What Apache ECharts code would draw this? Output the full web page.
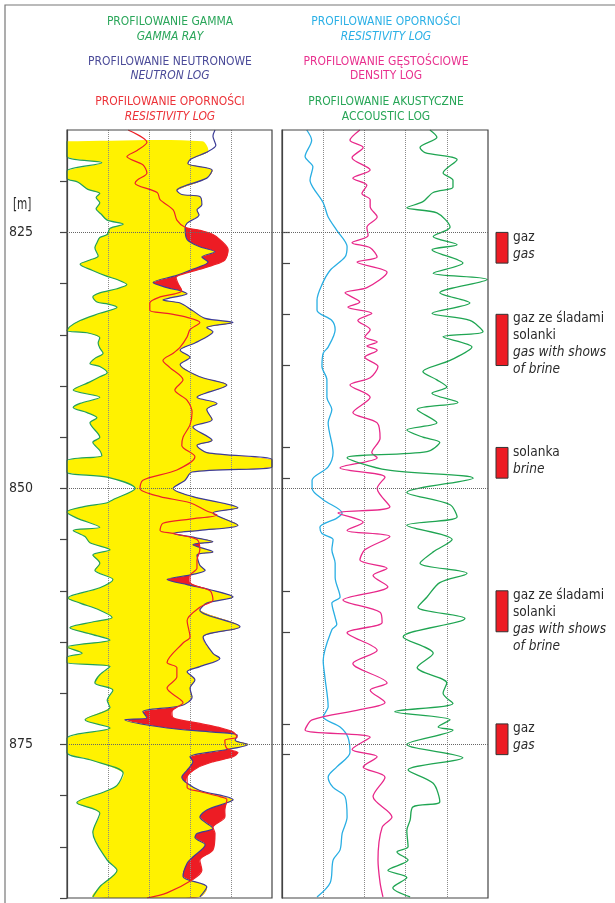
<!DOCTYPE html>
<html>
<head>
<meta charset="utf-8">
<script src="https://cdn.jsdelivr.net/npm/echarts@6/dist/echarts.min.js"></script>
<style>
html, body { margin: 0; padding: 0; background: #fff; }
#chart { width: 615px; height: 903px; }
</style>
</head>
<body>
<div id="chart"></div>
<script>
var FONT = '"DejaVu Sans Condensed", "Liberation Sans", sans-serif';

var depthMin = 815, depthMax = 890;
var depthTicks = [820, 825, 830, 835, 840, 845, 850, 855, 860, 865, 870, 875, 880, 885, 890];
var depthLabels = [825, 850, 875];

// left track: [value, depth]
var gammaRay = [
	[0,816.1],[0,817.6],[0.85,818.2],[0,819.0],[0,819.7],[0.27,820.1],[0.51,820.8],[0.80,821.2],[0.71,821.6],[0.80,822.1],
	[0.71,822.7],[0.83,823.2],[0.98,823.8],[1.37,824.2],[1.05,824.6],[0.98,825.2],[0.80,825.5],[0.73,826.0],[0.68,826.5],[0.76,827.3],
	[0.56,827.7],[0.32,828.1],[0.61,828.7],[0.98,829.3],[1.22,829.6],[1.46,830.1],[1.22,830.5],[0.80,830.9],[0.63,831.3],[0.73,831.8],
	[1.00,832.0],[1.22,832.3],[0.80,832.9],[0.32,833.6],[0.07,834.2],[0,834.6],[0.49,834.8],[0.80,835.3],[0.76,835.8],[0.80,836.3],
	[0.88,836.8],[0.68,837.3],[0.56,837.8],[0.80,838.1],[0.98,838.7],[0.80,839.1],[0.56,839.6],[0.15,840.4],[0.80,841.1],[0.32,841.7],
	[0.15,842.1],[0.49,842.6],[0.73,843.1],[0.56,843.6],[0.80,845.0],[0.63,845.5],[0.80,846.3],[0.85,846.8],[0,847.3],[0,848.4],
	[0.98,848.9],[1.66,850.0],[1.12,851.1],[0.98,851.4],[0.39,851.8],[0,852.3],[0.24,852.9],[0.80,853.8],[0.15,854.1],[0.44,854.7],
	[0.56,855.3],[1.05,856.0],[0.63,856.5],[0.80,857.3],[0.68,858.0],[1.12,858.9],[0.80,859.7],[0.02,860.7],[0.32,861.2],[0.80,861.9],
	[1.10,862.6],[0.68,863.0],[0.07,863.6],[0.56,864.2],[1.05,864.8],[0,865.5],[0.37,866.1],[0,866.5],[0,867.0],[1.05,867.4],
	[0.80,868.2],[0.68,869.0],[1.12,869.7],[0.98,870.7],[1.05,871.4],[0.44,872.6],[1.05,873.4],[0,874.4],[0,875.8],[0.56,876.5],
	[1.37,877.8],[1.22,879.0],[0.93,879.6],[0.24,880.7],[0.80,881.7],[0.63,883.6],[0.98,886.3],[1.22,887.3],[0.80,888.9],[0.63,889.9]
];
var neutronLog = [
	[3.61,815.0],[3.56,815.6],[3.63,816.5],[3.44,817.1],[3.00,817.9],[2.95,818.3],[3.54,818.9],[3.41,819.7],[2.68,820.9],[2.80,821.3],
	[3.24,821.5],[3.29,822.3],[3.17,822.8],[3.22,823.3],[2.93,824.1],[2.88,824.6],[2.93,825.7],[3.24,826.4],[3.61,826.9],[3.29,827.4],
	[3.44,827.9],[3.00,828.7],[2.68,829.2],[2.10,829.9],[2.44,830.4],[2.76,830.7],[2.93,831.0],[2.51,831.4],[2.34,831.6],[2.76,831.9],
	[3.05,832.6],[3.37,833.4],[4.05,833.8],[3.41,834.3],[3.56,834.7],[3.41,835.2],[3.12,835.8],[2.76,836.5],[3.00,837.2],[2.76,837.9],
	[3.24,839.1],[3.90,839.9],[3.17,841.1],[3.66,841.7],[3.41,842.3],[3.54,843.3],[3.07,844.0],[3.54,845.3],[3.17,845.8],[3.41,846.5],
	[5.0,847.2],[5.0,847.9],[3.05,848.4],[2.88,849.2],[2.59,850.0],[3.07,850.8],[4.17,851.9],[3.56,852.4],[4.17,853.6],[3.24,854.1],
	[2.59,854.4],[3.12,854.8],[3.56,855.2],[3.07,855.5],[3.56,856.2],[3.17,856.5],[3.24,857.5],[3.37,858.0],[3.07,858.4],[2.44,858.9],
	[2.93,859.4],[3.49,859.9],[4.05,860.6],[3.41,861.2],[3.24,861.9],[4.22,863.5],[3.32,864.5],[3.56,866.1],[3.73,866.6],[3.24,867.4],
	[2.93,867.9],[3.12,868.7],[3.00,869.5],[3.05,870.4],[2.80,871.2],[1.85,871.8],[1.95,872.4],[1.41,872.6],[2.44,873.4],[3.56,873.8],
	[4.15,874.1],[4.10,874.6],[4.41,875.0],[3.90,875.5],[3.00,876.2],[3.07,876.7],[2.93,877.5],[2.80,878.2],[2.93,878.8],[3.24,879.5],
	[4.05,880.4],[3.90,880.7],[3.41,881.4],[3.24,882.1],[3.56,883.2],[3.17,883.7],[3.12,884.1],[3.37,884.8],[3.07,886.0],[2.93,886.6],
	[2.83,887.9],[3.41,888.9],[3.24,889.9]
];
var resistivityLeft = [
	[1.49,815.0],[1.95,816.2],[1.71,817.0],[1.46,817.6],[1.85,818.4],[1.95,819.2],[1.71,819.9],[1.66,820.2],[2.20,821.1],[2.27,821.8],
	[2.59,822.8],[2.68,823.8],[2.88,824.5],[3.24,824.8],[3.56,825.2],[3.73,825.7],[3.93,826.7],[3.85,827.7],[3.56,828.2],[3.24,828.6],
	[2.88,829.0],[2.66,829.4],[2.71,830.0],[2.80,830.7],[2.63,831.0],[2.27,831.3],[2.02,831.9],[2.02,832.6],[2.44,832.9],[2.93,833.3],
	[3.24,833.8],[3.00,834.5],[2.93,835.2],[2.76,836.2],[2.59,836.8],[2.34,837.5],[2.51,838.2],[2.83,839.4],[2.63,840.4],[2.93,841.4],
	[3.05,842.6],[3.00,843.8],[2.83,845.0],[2.80,845.8],[3.12,846.9],[2.68,848.2],[1.85,849.2],[1.78,850.0],[2.27,850.8],[3.00,851.4],
	[3.41,852.2],[3.66,852.6],[3.00,853.0],[2.34,853.4],[2.27,854.1],[2.59,854.4],[3.17,855.0],[3.24,856.0],[3.17,857.0],[3.17,857.8],
	[3.00,858.5],[3.00,859.2],[3.49,860.0],[3.56,860.9],[3.24,861.6],[2.93,862.9],[3.00,864.5],[2.83,865.1],[2.44,867.0],[2.68,867.5],
	[2.68,868.4],[2.44,869.5],[2.76,870.6],[2.83,870.9],[2.56,871.8],[2.59,872.4],[3.17,872.9],[3.66,873.3],[4.05,873.8],[4.15,874.3],
	[3.85,874.6],[3.90,875.4],[4.17,875.8],[4.05,876.2],[3.56,876.7],[3.17,877.3],[2.93,878.2],[2.93,879.2],[3.24,879.6],[3.73,880.1],
	[3.90,880.4],[3.85,881.4],[3.85,882.1],[3.56,883.1],[3.61,883.7],[3.56,885.3],[3.24,886.3],[3.29,887.3],[3.07,888.2],[2.44,889.5],
	[1.95,890.0]
];
var yellowTop = [[0,816.1],[3.3,816.1]];
var fillFrom = 817;

// right track
var resistivityRight = [
	[0.60,815.0],[0.72,816.0],[0.56,817.6],[0.75,818.6],[0.68,819.9],[0.75,820.6],[1.00,822.1],[1.12,823.5],[1.33,824.8],[1.58,826.4],
	[1.53,827.4],[1.17,828.7],[0.97,830.1],[0.85,831.6],[0.85,832.6],[1.21,833.6],[1.29,834.5],[1.12,836.2],[1.00,836.8],[0.97,838.1],
	[1.09,839.4],[1.09,841.1],[1.21,842.3],[1.12,843.6],[1.24,846.5],[1.12,847.9],[0.73,849.2],[0.73,850.0],[1.00,851.1],[1.46,852.4],
	[1.33,852.9],[0.92,853.8],[0.97,854.4],[1.24,855.0],[1.21,856.0],[1.29,857.3],[1.29,858.7],[1.41,860.6],[1.21,861.2],[1.29,862.6],
	[1.33,863.3],[1.21,863.8],[1.00,866.8],[1.04,868.4],[1.12,871.3],[1.00,872.3],[1.41,873.3],[1.60,874.3],[1.65,875.8],[1.33,877.2],
	[1.12,878.2],[1.24,879.2],[1.53,880.1],[1.58,882.1],[1.46,883.7],[1.41,885.3],[1.24,886.3],[1.17,888.5],[0.85,889.9]
];
var densityLog = [
	[1.89,815.0],[1.65,816.0],[1.97,816.7],[1.70,817.7],[2.14,818.9],[1.72,819.7],[2.06,820.4],[1.94,821.2],[2.14,821.8],[2.14,822.5],
	[2.31,823.5],[2.06,824.5],[2.09,825.3],[1.70,826.0],[2.14,826.5],[2.31,827.4],[1.82,827.9],[2.55,828.9],[2.06,830.4],[1.53,830.9],
	[1.89,831.8],[1.60,832.3],[2.18,832.9],[1.84,833.6],[2.14,834.5],[2.01,835.2],[2.31,835.7],[2.06,836.1],[2.31,836.5],[2.01,837.2],
	[2.33,838.1],[2.14,839.2],[1.65,839.9],[2.14,841.1],[1.72,842.6],[2.31,843.6],[2.38,845.1],[2.18,846.5],[2.31,847.0],[1.41,848.0],
	[2.50,848.9],[2.31,850.0],[2.62,851.8],[1.36,852.4],[1.97,853.3],[1.58,854.1],[2.62,854.7],[2.01,856.0],[1.89,857.0],[2.55,857.8],
	[2.21,858.5],[2.57,859.6],[1.48,860.9],[2.38,862.1],[2.43,863.1],[1.58,864.1],[2.31,865.8],[1.72,867.1],[2.55,869.0],[2.14,869.7],
	[2.50,870.9],[1.89,871.6],[0.73,872.6],[0.56,873.6],[2.14,874.3],[1.70,875.5],[2.31,876.2],[1.97,877.2],[2.50,878.2],[2.21,880.1],
	[2.67,882.1],[2.43,883.1],[2.33,886.3],[2.38,888.5],[2.45,889.9]
];
var acousticLog = [
	[3.59,815.0],[3.76,815.7],[3.35,816.7],[3.47,817.2],[4.25,817.9],[3.91,819.2],[4.15,819.9],[4.15,820.6],[3.67,821.1],[3.42,822.0],
	[3.03,822.6],[3.76,823.1],[4.08,824.5],[3.67,825.4],[4.25,826.2],[3.64,826.7],[4.39,828.0],[3.67,829.0],[4.98,829.6],[3.83,830.9],
	[4.56,831.9],[3.64,832.9],[4.56,833.6],[4.88,834.7],[3.91,835.2],[4.61,836.2],[4.08,837.5],[3.42,838.6],[3.76,839.4],[4.00,840.1],
	[3.64,840.7],[4.27,841.6],[3.28,842.3],[3.76,843.6],[3.03,844.3],[3.42,845.0],[3.83,845.5],[3.52,846.4],[1.58,847.0],[2.55,848.2],
	[4.64,849.0],[3.03,850.4],[4.08,851.6],[4.25,852.8],[3.03,853.6],[4.13,855.0],[3.67,856.2],[3.35,857.3],[4.49,858.3],[3.83,859.2],
	[3.52,860.6],[3.30,861.6],[4.44,862.7],[2.94,864.5],[3.67,866.1],[3.28,867.5],[4.00,869.0],[3.91,870.0],[4.15,871.0],[2.74,871.8],
	[4.08,872.6],[3.79,873.3],[4.15,873.6],[3.03,875.0],[4.39,876.3],[3.06,877.5],[3.67,878.8],[3.83,880.6],[3.18,881.1],[3.11,882.4],
	[3.03,883.4],[3.06,885.0],[2.79,885.5],[3.06,886.3],[2.57,887.3],[3.03,888.0],[2.69,889.0],[3.11,889.9]
];

// interpreted zones
var zoneTop = [825, 833, 846, 860, 873];
var zoneBottom = [828, 838, 849, 864, 876];
var zonePl = ['gaz', 'gaz ze śladami\nsolanki', 'solanka', 'gaz ze śladami\nsolanki', 'gaz'];
var zoneEn = ['gas', 'gas with shows\nof brine', 'brine', 'gas with shows\nof brine', 'gas'];

var headLeft = [
	['PROFILOWANIE GAMMA', 'GAMMA RAY', '#2aa65a', true],
	['PROFILOWANIE NEUTRONOWE', 'NEUTRON LOG', '#4a4a98', true],
	['PROFILOWANIE OPORNOŚCI', 'RESISTIVITY LOG', '#ec3238', true]
];
var headRight = [
	['PROFILOWANIE OPORNOŚCI', 'RESISTIVITY LOG', '#2bb0e6', true],
	['PROFILOWANIE GĘSTOŚCIOWE', 'DENSITY LOG', '#e8308e', false],
	['PROFILOWANIE AKUSTYCZNE', 'ACCOUSTIC LOG', '#26a556', false]
];

var C = {
	gamma: '#23a158',
	neutron: '#3c3c96',
	resist: '#ed2228',
	fillRed: '#ed1c24',
	yellow: '#fff200',
	cyan: '#29aee3',
	density: '#e8288a',
	acoustic: '#1fa552',
	grid: '#8a8a8a',
	frame: '#444',
	text: '#2b2b2b'
};

var chart = echarts.init(document.getElementById('chart'), null, { renderer: 'canvas' });

function headings(list, cx) {
	var out = [];
	var rows = [22, 61.3, 102];
	list.forEach(function (h, i) {
		out.push({ type: 'text', x: cx, y: rows[i], scaleX: 0.92, style: { text: h[0], align: 'center', verticalAlign: 'middle', fill: h[2], font: '13px ' + FONT } });
		out.push({ type: 'text', x: cx, y: rows[i] + 14.4, scaleX: 0.92, style: { text: h[1], align: 'center', verticalAlign: 'middle', fill: h[2], font: (h[3] ? 'italic ' : '') + '13px ' + FONT } });
	});
	return out;
}

function trackAxisX(idx) {
	return {
		gridIndex: idx, type: 'value', min: 0, max: 5, interval: 1, z: 3,
		axisLine: { show: false }, axisTick: { show: false }, axisLabel: { show: false },
		splitLine: { show: true, showMinLine: false, showMaxLine: false, lineStyle: { type: 'dotted', color: C.grid, width: 1 } }
	};
}

function depthAxis(idx, extra) {
	var ax = {
		gridIndex: idx, type: 'value', min: depthMin, max: depthMax, inverse: true,
		axisLine: { show: false }, axisTick: { show: false }, axisLabel: { show: false }, splitLine: { show: false }
	};
	return Object.assign(ax, extra || {});
}

function logLine(data, color, idx, width) {
	return {
		type: 'line', xAxisIndex: idx, yAxisIndex: idx, data: data,
		showSymbol: false, smooth: 0.3, silent: true, z: 4,
		lineStyle: { color: color, width: width || 1.2 }
	};
}

function renderFills(params, api) {
	function toPx(arr) {
		return arr.map(function (p) { return api.coord(p); });
	}
	function below(arr) {
		return arr.filter(function (p) { return p[1] >= fillFrom; });
	}
	var neu = toPx(below(neutronLog));
	var res = toPx(below(resistivityLeft)).reverse();
	var gam = toPx(gammaRay).reverse();
	var top = toPx(yellowTop);
	return {
		type: 'group',
		children: [
			{ type: 'polygon', shape: { points: neu.concat(res), smooth: 0.3 }, style: { fill: C.fillRed } },
			{ type: 'polygon', shape: { points: top.concat(neu, gam), smooth: 0.3 }, style: { fill: C.yellow } }
		]
	};
}

function renderZone(params, api) {
	var a = api.coord([0, api.value(0)]);
	var b = api.coord([1, api.value(1)]);
	var i = api.value(2);
	var pl = zonePl[i].split('\n').map(function (s) { return '{pl|' + s + '}'; });
	var en = zoneEn[i].split('\n').map(function (s) { return '{en|' + s + '}'; });
	return {
		type: 'group',
		children: [
			{ type: 'rect', shape: { x: a[0], y: a[1], width: b[0] - a[0], height: b[1] - a[1] }, style: { fill: C.fillRed, stroke: '#333', lineWidth: 1 } },
			{
				type: 'text', x: b[0] + 5, y: a[1] - 4, scaleX: 0.97,
				style: {
					text: pl.concat(en).join('\n'), verticalAlign: 'top', align: 'left',
					rich: {
						pl: { fontSize: 14, lineHeight: 17, fontFamily: FONT, fill: C.text },
						en: { fontSize: 14, lineHeight: 17, fontFamily: FONT, fill: C.text, fontStyle: 'italic' }
					}
				}
			}
		]
	};
}

var option = {
	animation: false,
	backgroundColor: '#fff',
	graphic: [
		{ type: 'rect', silent: true, shape: { x: 5, y: 5, width: 640, height: 940 }, style: { fill: null, stroke: '#777', lineWidth: 1.2 } },
		{ type: 'text', x: 13, y: 205, scaleX: 0.78, style: { text: '[m]', fill: C.text, verticalAlign: 'middle', font: '15px ' + FONT } }
	].concat(headings(headLeft, 170), headings(headRight, 386)),
	grid: [
		{ left: 67, top: 130, width: 205, height: 768, show: true, z: 5, borderColor: C.frame, borderWidth: 1.2, backgroundColor: 'transparent' },
		{ left: 282, top: 130, width: 206, height: 768, show: true, z: 5, borderColor: C.frame, borderWidth: 1.2, backgroundColor: 'transparent' },
		{ left: 67, top: 130, width: 421, height: 768 },
		{ left: 496, top: 130, width: 12, height: 768 }
	],
	xAxis: [
		trackAxisX(0),
		trackAxisX(1),
		{ gridIndex: 2, type: 'value', min: 0, max: 1, show: false },
		{ gridIndex: 3, type: 'value', min: 0, max: 1, show: false }
	],
	yAxis: [
		depthAxis(0, {
			position: 'left', offset: 18,
			axisLine: { show: true, lineStyle: { color: C.frame, width: 1.2 } },
			axisTick: { show: true, length: 7, customValues: depthTicks, lineStyle: { color: C.frame, width: 1.2 } },
			axisLabel: { show: true, customValues: depthLabels, margin: 16, fontSize: 14, fontFamily: FONT, color: C.text }
		}),
		depthAxis(1, {
			position: 'right',
			axisLine: { show: true, lineStyle: { color: C.frame, width: 1.2 } },
			axisTick: { show: true, length: 8, customValues: zoneTop.concat(zoneBottom), lineStyle: { color: C.frame, width: 1.2 } }
		}),
		depthAxis(2),
		depthAxis(3)
	],
	series: [
		{
			type: 'custom', xAxisIndex: 0, yAxisIndex: 0, z: 1, silent: true, clip: true,
			data: [[2.5, 850]], renderItem: renderFills
		},
		{
			type: 'line', xAxisIndex: 2, yAxisIndex: 2, data: [], silent: true, z: 3,
			markLine: {
				silent: true, symbol: 'none', label: { show: false },
				lineStyle: { type: 'dotted', color: '#666', width: 1 },
				data: depthLabels.map(function (d) { return { yAxis: d }; })
			}
		},
		logLine(gammaRay, C.gamma, 0),
		logLine(neutronLog, C.neutron, 0),
		logLine(resistivityLeft, C.resist, 0),
		logLine(resistivityRight, C.cyan, 1, 1.3),
		logLine(densityLog, C.density, 1, 1.3),
		logLine(acousticLog, C.acoustic, 1, 1.3),
		{
			type: 'custom', xAxisIndex: 3, yAxisIndex: 3, silent: true, z: 4,
			data: zoneTop.map(function (t, i) { return [t, zoneBottom[i], i]; }),
			renderItem: renderZone
		}
	]
};

chart.setOption(option);
</script>
</body>
</html>
